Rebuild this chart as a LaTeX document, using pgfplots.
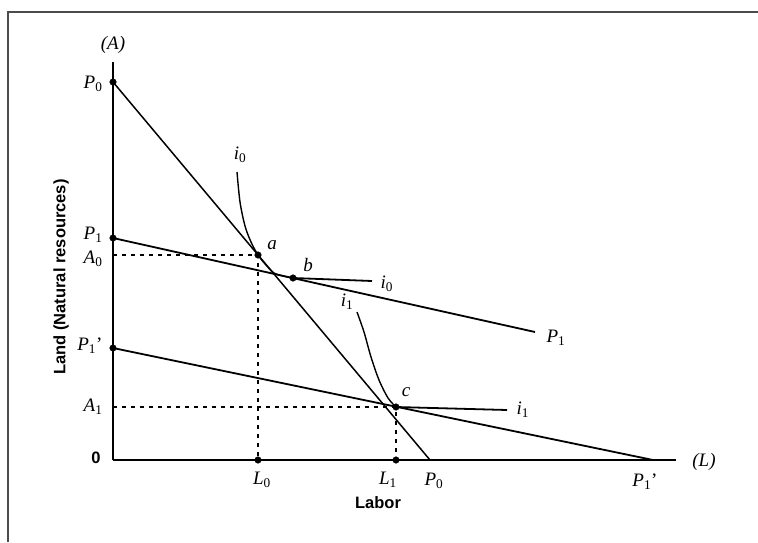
\documentclass[border=0pt]{standalone}
\usepackage{fontspec}
\setmainfont{Liberation Serif}
\newfontfamily\sansbf{Liberation Sans}
\usepackage{pgfplots}
\pgfplotsset{compat=1.18}

% font sizes are set inside the node text
\newcommand\fs{\fontsize{19}{19}\selectfont}
\newcommand\sfb{\sansbf\bfseries\fontsize{16.5}{16.5}\selectfont}
% italic letter with upright subscript
\newcommand\lab[2]{{\fs\textit{#1}\textsubscript{#2}}}
\newcommand\itl[1]{{\fs\textit{#1}}}

\begin{document}
\begin{tikzpicture}[x=1pt,y=1pt]
\useasboundingbox (0,0) rectangle (758,542);
\draw[line width=2.2pt, black!70] (8,0) -- (8,530) -- (758,530);
\begin{axis}[
    at={(113pt,82pt)}, anchor=south west,
    scale only axis, width=563pt, height=398pt,
    xmin=0, xmax=563, ymin=0, ymax=398,
    axis lines=left,
    axis line style={-, line width=1.8pt},
    xtick=\empty, ytick=\empty,
    clip=false,
]
% price lines
\addplot[black, line width=1.5pt] coordinates {(0,378) (317,0)};
\addplot[black, line width=1.8pt] coordinates {(0,222) (422,128)};
\addplot[black, line width=1.8pt] coordinates {(0,112) (540,0)};
% isoquants
\addplot[black, line width=1.4pt, smooth, tension=0.5] coordinates {
    (124,288) (127,258) (132,234) (138,218) (145,205) (153,195) (161,187) (170,184) (180,182)};
\addplot[black, line width=1.8pt] coordinates {(180,182) (259,179)};
\addplot[black, line width=1.4pt, smooth, tension=0.5] coordinates {
    (244,148) (251,128) (258,103) (266,80) (275,62) (283,53)};
\addplot[black, line width=1.8pt] coordinates {(283,53) (394,50)};
% dashed guides
\addplot[black, line width=1.4pt, dash pattern=on 4pt off 5pt] coordinates {(0,205) (145,205) (145,0)};
\addplot[black, line width=1.4pt, dash pattern=on 4pt off 5pt] coordinates {(0,53) (283,53) (283,0)};
% points
\addplot[only marks, mark=*, mark size=3.3pt, black] coordinates {
    (0,378) (0,222) (0,112) (145,205) (180,182) (283,53) (145,0) (283,0)};

% axis labels
\node at (axis cs:0,415) {\itl{(A)}};
\node at (axis cs:591,-2) {\itl{(L)}};
\node[anchor=east] at (axis cs:-7,376) {\lab{P}{0}};
\node[anchor=east] at (axis cs:-7,225) {\lab{P}{1}};
\node[anchor=east] at (axis cs:-7,201) {\lab{A}{0}};
\node[anchor=east] at (axis cs:-7,114) {\lab{P}{1}{\fs\textquoteright}};
\node[anchor=east] at (axis cs:-7,53) {\lab{A}{1}};
\node[anchor=east] at (axis cs:-9,2) {\sfb 0};
\node at (axis cs:149,-20) {\lab{L}{0}};
\node at (axis cs:275,-20) {\lab{L}{1}};
\node at (axis cs:321,-21) {\lab{P}{0}};
\node at (axis cs:532,-22) {\lab{P}{1}{\fs\textquoteright}};
\node at (axis cs:265,-43) {\sfb Labor};
\node[rotate=90] at (axis cs:-52,183) {\sfb Land (Natural resources)};
% curve and point labels
\node at (axis cs:127,305) {\lab{i}{0}};
\node at (axis cs:159,215) {\itl{a}};
\node at (axis cs:195,195) {\itl{b}};
\node[anchor=west] at (axis cs:264,176) {\lab{i}{0}};
\node at (axis cs:234,158) {\lab{i}{1}};
\node[anchor=west] at (axis cs:430,122) {\lab{P}{1}};
\node at (axis cs:293,68) {\itl{c}};
\node[anchor=west] at (axis cs:400,50) {\lab{i}{1}};
\end{axis}
\end{tikzpicture}
\end{document}
